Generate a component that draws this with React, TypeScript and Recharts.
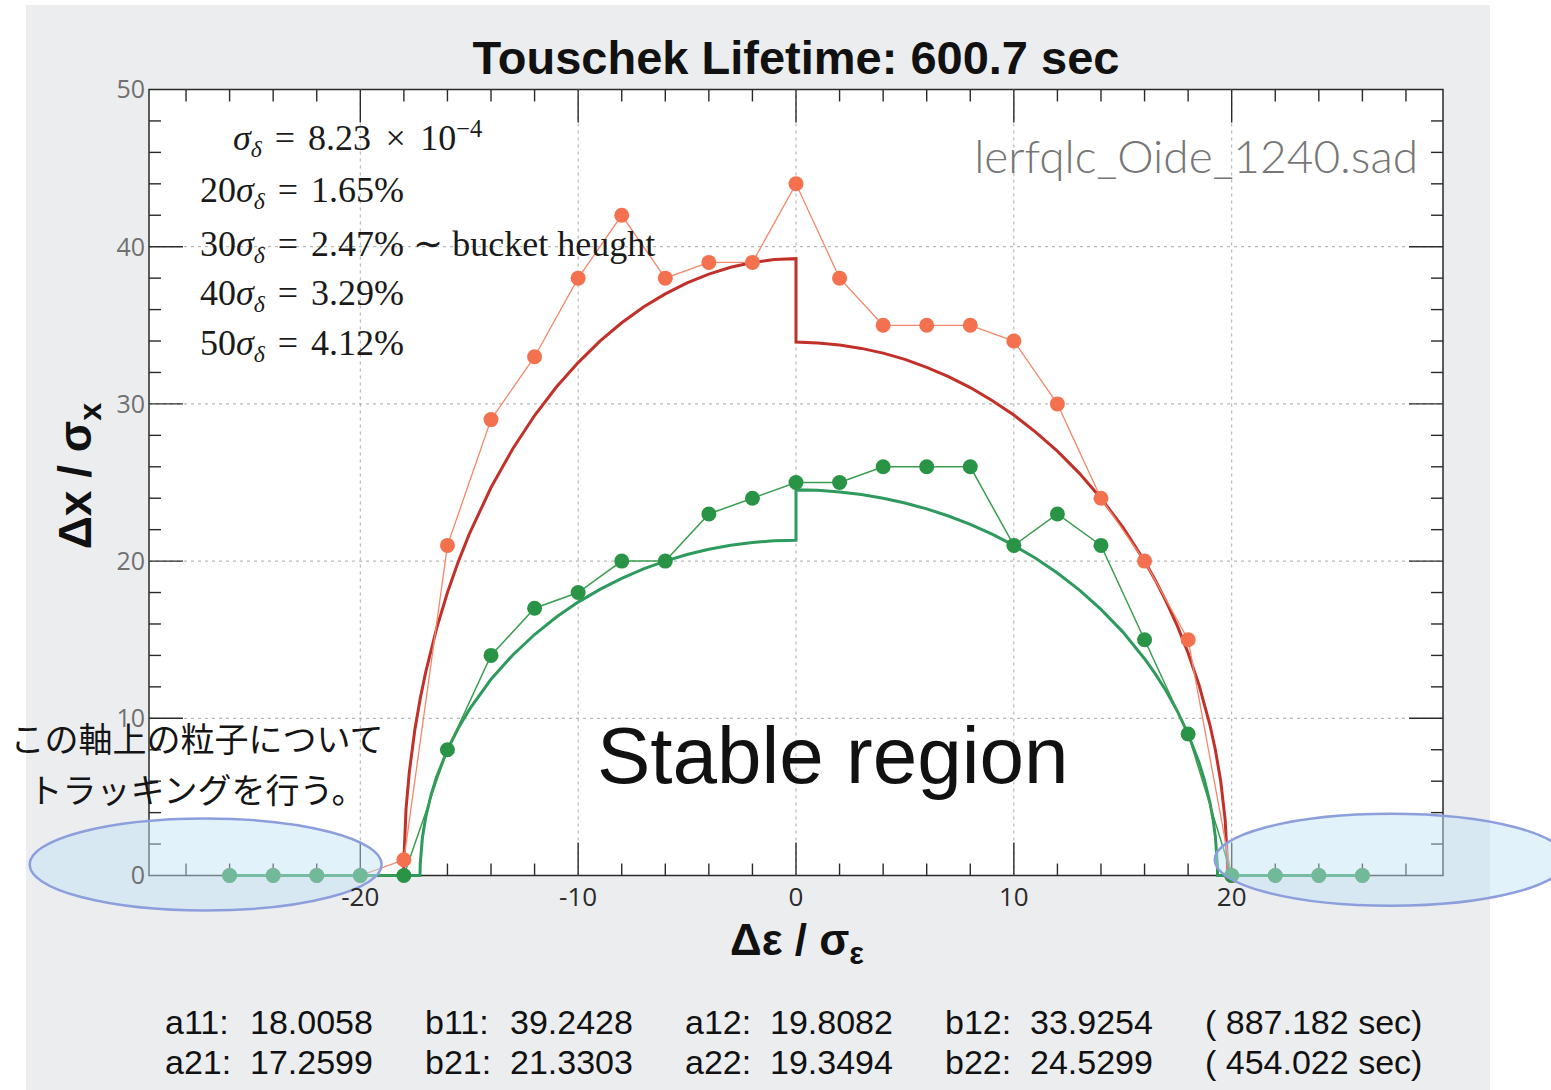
import React from "react";
import {
  LineChart,
  Line,
  XAxis,
  YAxis,
  ReferenceLine,
  ReferenceArea,
  ReferenceDot,
} from "recharts";

const W = 1551;
const H = 1090;
const X_MIN = -29.7;
const X_MAX = 29.7;

// tracking results (every 2 sigma_e)
const trackX = [-26, -24, -22, -20, -18, -16, -14, -12, -10, -8, -6, -4, -2, 0, 2, 4, 6, 8, 10, 12, 14, 16, 18, 20, 22, 24, 26];
const trackRed = [0, 0, 0, 0, 1, 21, 29, 33, 38, 42, 38, 39, 39, 44, 38, 35, 35, 35, 34, 30, 24, 20, 15, 0, 0, 0, 0];
const trackGreen = [0, 0, 0, 0, 0, 8, 14, 17, 18, 20, 20, 23, 24, 25, 25, 26, 26, 26, 21, 23, 21, 15, 9, 0, 0, 0, 0];

// fitted aperture curves
const fitRedX = [-26, -18.01, -18, -17.9, -17.75, -17.5, -17.25, -17, -16.5, -16, -15.5, -15, -14, -13, -12, -11, -10, -9, -8, -7, -6, -5, -4, -3, -2, -1, 0, 0, 1, 2, 3, 4, 5, 6, 7, 8, 9, 10, 11, 12, 13, 14, 15, 16, 16.5, 17, 17.5, 18, 18.5, 19, 19.25, 19.5, 19.7, 19.8, 19.81, 26];
const fitRedY = [0, 0, 1.0, 4.25, 6.59, 9.24, 11.25, 12.93, 15.71, 18.0, 19.97, 21.71, 24.68, 27.15, 29.26, 31.07, 32.63, 33.99, 35.16, 36.16, 37.0, 37.7, 38.26, 38.69, 39.0, 39.18, 39.24, 33.93, 33.88, 33.75, 33.53, 33.23, 32.83, 32.33, 31.74, 31.04, 30.22, 29.29, 28.21, 26.99, 25.6, 24.0, 22.16, 20.0, 18.77, 17.41, 15.89, 14.16, 12.12, 9.59, 8.0, 5.96, 3.54, 0.98, 0, 0];
const fitGreenX = [-26, -17.26, -17.25, -17.15, -17, -16.75, -16.5, -16, -15.5, -15, -14, -13, -12, -11, -10, -9, -8, -7, -6, -5, -4, -3, -2, -1, 0, 0, 1, 2, 3, 4, 5, 6, 7, 8, 9, 10, 11, 12, 13, 14, 15, 16, 16.5, 17, 17.5, 18, 18.5, 18.75, 19, 19.15, 19.25, 19.34, 19.35, 26];
const fitGreenY = [0, 0, 0.72, 2.4, 3.69, 5.15, 6.26, 8.0, 9.38, 10.55, 12.48, 14.03, 15.33, 16.44, 17.39, 18.2, 18.9, 19.5, 20.0, 20.42, 20.75, 21.01, 21.19, 21.29, 21.33, 24.53, 24.5, 24.4, 24.23, 24.0, 23.7, 23.32, 22.87, 22.34, 21.71, 21.0, 20.18, 19.24, 18.17, 16.93, 15.5, 13.79, 12.81, 11.72, 10.47, 9.0, 7.19, 6.06, 4.64, 3.51, 2.48, 0.76, 0, 0];

const xLabelTicks = [-20, -10, 0, 10, 20];
const yLabelTicks = [0, 10, 20, 30, 40, 50];
const xGrid = [-20, -10, 0, 10, 20];
const yGrid = [10, 20, 30, 40];
const xSmallTicks = [-28, -26, -24, -22, -20, -18, -16, -14, -12, -10, -8, -6, -4, -2, 0, 2, 4, 6, 8, 10, 12, 14, 16, 18, 20, 22, 24, 26, 28];
const ySmallTicks = [2, 4, 6, 8, 10, 12, 14, 16, 18, 20, 22, 24, 26, 28, 30, 32, 34, 36, 38, 40, 42, 44, 46, 48];

// the two "tracked on this axis" highlights
const highlightX = [-27.1, 27.3];
const highlightY = [0.7, 1.0];

const sigmaMultiples = [20, 30, 40, 50];
const sigmaPercents = ["1.65", "2.47", "3.29", "4.12"];

const paramNames = [
  ["a11", "b11", "a12", "b12"],
  ["a21", "b21", "a22", "b22"],
];
const paramValues = [
  ["18.0058", "39.2428", "19.8082", "33.9254"],
  ["17.2599", "21.3303", "19.3494", "24.5299"],
];
const lifetimes = ["887.182", "454.022"];

const RED_FIT = "#c2302a";
const ORANGE = "#f3714f";
const ORANGE_LINE = "#f4876a";
const GREEN_FIT = "#2e9a5e";
const GREEN = "#2a9446";
const GREEN_LINE = "#3b9d50";
const FRAME = "#2a2a2a";

const SANS = '"Liberation Sans", Arial, sans-serif';
const SERIF = '"Liberation Serif", "DejaVu Serif", serif';

const redFitData = fitRedX.map((x, i) => ({ x, y: fitRedY[i] }));
const greenFitData = fitGreenX.map((x, i) => ({ x, y: fitGreenY[i] }));
const redTrackData = trackX.map((x, i) => ({ x, y: trackRed[i] }));
const greenTrackData = trackX.map((x, i) => ({ x, y: trackGreen[i] }));

// tick lengths in data units (inward ticks on all four sides)
const TX_MAJ = 2.1;
const TX_MIN = 0.76;
const TY_MAJ = 1.56;
const TY_MIN = 0.55;

function SigmaDelta() {
  return (
    <span>
      <i>σ</i>
      <span style={{ fontSize: "0.66em", fontStyle: "italic", position: "relative", top: "0.3em" }}>δ</span>
    </span>
  );
}

const Eq = () => <span style={{ padding: "0 0.36em" }}>=</span>;

export default function App() {
  const ticks: React.ReactNode[] = [];
  xSmallTicks.forEach((x) => {
    const len = x % 10 === 0 ? TX_MAJ : TX_MIN;
    ticks.push(
      <ReferenceLine key={`b${x}`} segment={[{ x, y: 0 }, { x, y: len }]} stroke={FRAME} strokeWidth={1.4} />
    );
    ticks.push(
      <ReferenceLine key={`t${x}`} segment={[{ x, y: 50 }, { x, y: 50 - len }]} stroke={FRAME} strokeWidth={1.4} />
    );
  });
  ySmallTicks.forEach((y) => {
    const len = y % 10 === 0 ? TY_MAJ : TY_MIN;
    ticks.push(
      <ReferenceLine key={`l${y}`} segment={[{ x: X_MIN, y }, { x: X_MIN + len, y }]} stroke={FRAME} strokeWidth={1.4} />
    );
    ticks.push(
      <ReferenceLine key={`r${y}`} segment={[{ x: X_MAX, y }, { x: X_MAX - len, y }]} stroke={FRAME} strokeWidth={1.4} />
    );
  });

  return (
    <div
      style={{
        position: "absolute",
        left: 0,
        top: 0,
        width: W,
        height: H,
        overflow: "hidden",
        background: "#fff",
        fontFamily: SANS,
      }}
    >
      <div style={{ position: "absolute", left: 26, top: 5, width: 1464, height: 1090, background: "#ecedef" }} />
      <div style={{ position: "absolute", left: 149, top: 89.5, width: 1294, height: 786, background: "#fff" }} />

      <div style={{ position: "absolute", left: 0, top: 0 }}>
        <LineChart
          width={W}
          height={H}
          margin={{ top: 89.5, right: 108, bottom: 174.5, left: 89 }}
          style={{ fontFamily: '"Open Sans", sans-serif' }}
        >
          <XAxis
            dataKey="x"
            type="number"
            domain={[X_MIN, X_MAX]}
            ticks={xLabelTicks}
            height={40}
            tickLine={false}
            axisLine={false}
            tickSize={0}
            tickMargin={12}
            tick={{ fill: "#2a2a2a", fontSize: 26 }}
          />
          <YAxis
            type="number"
            domain={[0, 50]}
            ticks={yLabelTicks}
            width={60}
            tickLine={false}
            axisLine={false}
            tickSize={0}
            tickMargin={4}
            tick={{ fill: "#707070", fontSize: 25 }}
          />
          {xGrid.map((x) => (
            <ReferenceLine key={`gx${x}`} x={x} stroke="#a8a8a8" strokeDasharray="3 4" strokeWidth={1} />
          ))}
          {yGrid.map((y) => (
            <ReferenceLine key={`gy${y}`} y={y} stroke="#a8a8a8" strokeDasharray="3 4" strokeWidth={1} />
          ))}
          <ReferenceArea x1={X_MIN} x2={X_MAX} y1={0} y2={50} fill="none" stroke={FRAME} strokeWidth={1.5} />
          {ticks}

          <Line
            data={redFitData}
            dataKey="y"
            type="linear"
            stroke={RED_FIT}
            strokeWidth={3}
            dot={false}
            activeDot={false}
            isAnimationActive={false}
          />
          <Line
            data={redTrackData}
            dataKey="y"
            type="linear"
            stroke={ORANGE_LINE}
            strokeWidth={1.3}
            dot={{ r: 7.5, fill: ORANGE, stroke: ORANGE, strokeWidth: 0, clipDot: false }}
            activeDot={false}
            isAnimationActive={false}
          />
          <Line
            data={greenFitData}
            dataKey="y"
            type="linear"
            stroke={GREEN_FIT}
            strokeWidth={3}
            dot={false}
            activeDot={false}
            isAnimationActive={false}
          />
          <Line
            data={greenTrackData}
            dataKey="y"
            type="linear"
            stroke={GREEN_LINE}
            strokeWidth={1.5}
            dot={{ r: 7.5, fill: GREEN, stroke: GREEN, strokeWidth: 0, clipDot: false }}
            activeDot={false}
            isAnimationActive={false}
          />

          {highlightX.map((x, i) => (
            <ReferenceDot
              key={`hl${i}`}
              x={x}
              y={highlightY[i]}
              r={1}
              ifOverflow="visible"
              zIndex={1500}
              shape={(p: any) => (
                <ellipse
                  cx={p.cx}
                  cy={p.cy}
                  rx={176}
                  ry={46}
                  fill="rgb(191,227,246)"
                  fillOpacity={0.47}
                  stroke="#8c9fdc"
                  strokeWidth={2.5}
                />
              )}
            />
          ))}
        </LineChart>
      </div>

      {/* title */}
      <div
        style={{
          position: "absolute",
          left: 296,
          width: 1000,
          top: 34,
          textAlign: "center",
          fontSize: 47,
          fontWeight: "bold",
          lineHeight: 1,
          color: "#111",
        }}
      >
        Touschek Lifetime: 600.7 sec
      </div>

      {/* axis titles */}
      <div
        style={{
          position: "absolute",
          left: 75 - 200,
          top: 476 - 30,
          width: 400,
          height: 60,
          lineHeight: "60px",
          textAlign: "center",
          transform: "rotate(-90deg)",
          fontSize: 46,
          fontWeight: "bold",
          color: "#111",
        }}
      >
        Δx / σ<span style={{ fontSize: "0.7em", position: "relative", top: "0.3em" }}>x</span>
      </div>
      <div
        style={{
          position: "absolute",
          left: 597,
          width: 400,
          top: 918,
          textAlign: "center",
          fontSize: 44,
          fontWeight: "bold",
          lineHeight: 1,
          color: "#111",
        }}
      >
        Δε / σ<span style={{ fontSize: "0.7em", position: "relative", top: "0.3em" }}>ε</span>
      </div>

      {/* sigma annotations */}
      <div style={{ position: "absolute", left: 233, top: 120, fontFamily: SERIF, fontSize: 36, lineHeight: 1, color: "#1a1a1a", whiteSpace: "nowrap" }}>
        <SigmaDelta />
        <Eq />
        8.23 <span style={{ padding: "0 0.15em" }}>×</span> 10<span style={{ fontSize: "0.68em", position: "relative", top: "-0.55em" }}>−4</span>
      </div>
      {sigmaMultiples.map((m, i) => (
        <div
          key={m}
          style={{
            position: "absolute",
            left: 200,
            top: [172, 226, 275, 325][i],
            fontFamily: SERIF,
            fontSize: 36,
            lineHeight: 1,
            color: "#1a1a1a",
            whiteSpace: "nowrap",
          }}
        >
          {m}
          <SigmaDelta />
          <Eq />
          {sigmaPercents[i]}%{i === 1 ? " ∼ bucket heught" : ""}
        </div>
      ))}

      {/* lattice file name */}
      <div
        style={{
          position: "absolute",
          right: W - 1418,
          top: 128,
          fontFamily: "Lato, sans-serif",
          fontWeight: 300,
          fontSize: 46,
          lineHeight: 1.2,
          color: "#767676",
          whiteSpace: "nowrap",
        }}
      >
        lerfqlc_Oide_1240.sad
      </div>

      {/* region label */}
      <div style={{ position: "absolute", left: 597, top: 716, fontSize: 80, lineHeight: 1, color: "#111", whiteSpace: "nowrap" }}>
        Stable region
      </div>

      {/* Japanese note */}
      <div
        style={{
          position: "absolute",
          left: 0,
          width: 394,
          top: 712,
          textAlign: "center",
          fontFamily: '"Noto Sans CJK JP", sans-serif',
          fontSize: 34,
          lineHeight: "51px",
          color: "#151515",
        }}
      >
        この軸上の粒子について
        <br />
        トラッキングを行う。
      </div>

      {/* fit parameters */}
      {paramNames.map((row, r) => (
        <div key={r} style={{ position: "absolute", left: 0, top: [1005, 1045][r], fontSize: 34, lineHeight: 1, color: "#111" }}>
          {row.map((name, c) => (
            <React.Fragment key={name}>
              <span style={{ position: "absolute", left: 165 + c * 260, whiteSpace: "nowrap" }}>{name}:</span>
              <span style={{ position: "absolute", left: 250 + c * 260, whiteSpace: "nowrap" }}>{paramValues[r][c]}</span>
            </React.Fragment>
          ))}
          <span style={{ position: "absolute", left: 1205, whiteSpace: "nowrap" }}>( {lifetimes[r]} sec)</span>
        </div>
      ))}
    </div>
  );
}
